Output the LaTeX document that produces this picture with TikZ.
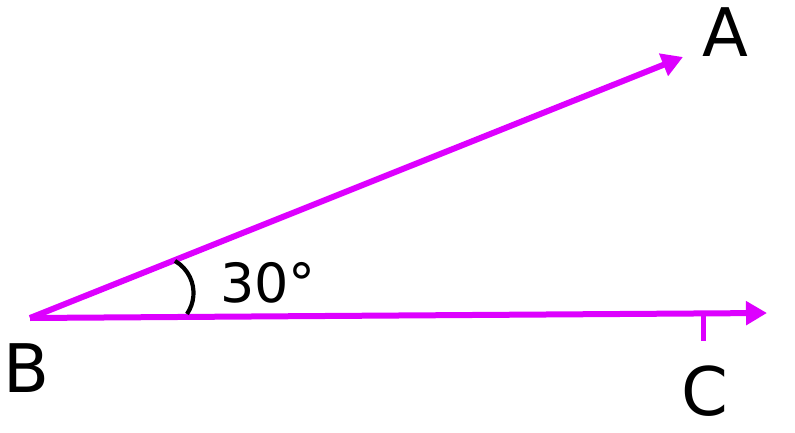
\documentclass[tikz,border=0pt]{standalone}
\usepackage{fontspec}
\setmainfont{DejaVu Sans}
\usetikzlibrary{arrows.meta}
\definecolor{ray}{RGB}{221,0,255}
\tikzset{
  rayline/.style={draw=ray, line width=6pt, -{Triangle[length=21pt,width=23pt]}},
  tickline/.style={draw=ray, line width=5pt},
  arcline/.style={draw=black, line width=4.2pt},
  biglabel/.style={anchor=base, inner sep=0pt, font=\fontsize{67}{67}\selectfont},
  anglelabel/.style={anchor=base west, inner sep=0pt, font=\fontsize{54}{54}\selectfont}
}
\begin{document}
\begin{tikzpicture}[x=1pt, y=-1pt]
\useasboundingbox (0,0) rectangle (795,433);
\coordinate (B) at (30,318);
\coordinate (Aend) at (683,57);
\coordinate (Cend) at (767,313);
\coordinate (Ctick) at (703,313.5);
\coordinate (Cbot) at (703,341);
\coordinate (arcc) at (156.5,293);
\draw[rayline] (B) -- (Aend);
\draw[rayline] (B) -- (Cend);
\draw[tickline] (Ctick) -- (Cbot);
\draw[arcline] (arcc) ++(34.5:37) arc[start angle=34.5, end angle=-60, radius=37];
\node[biglabel] (A) at (725,57) {A};
\node[biglabel, anchor=base west] (Blab) at (3,392) {B};
\node[biglabel] (C) at (705,415) {C};
\node[anglelabel] (ang) at (220,302) {30°};
\end{tikzpicture}
\end{document}
